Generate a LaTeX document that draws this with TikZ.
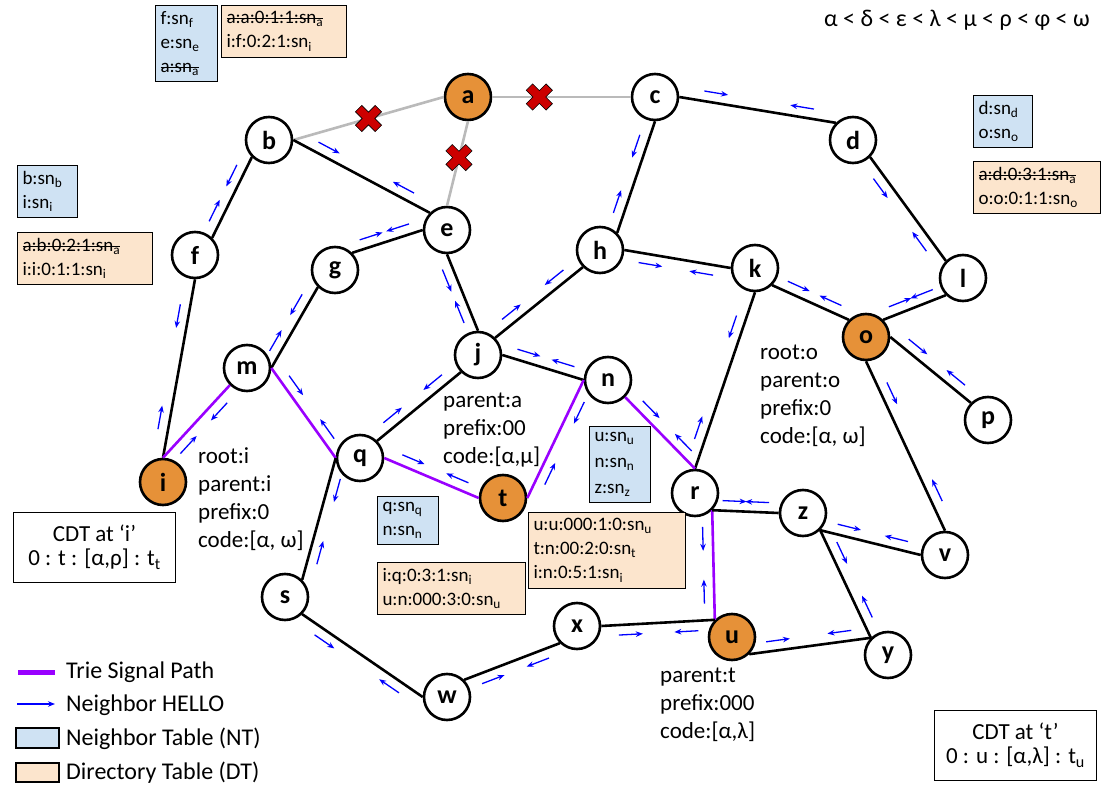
\documentclass[tikz,border=0pt]{standalone}
\usepackage{fontspec}
\setmainfont{Carlito}
\usetikzlibrary{arrows.meta}
\usetikzlibrary{calc}
\usetikzlibrary{positioning}

\definecolor{ntblue}{HTML}{CFE2F3}
\definecolor{dtpeach}{HTML}{FCE5CD}
\definecolor{rootorange}{HTML}{E69138}
\definecolor{triepurple}{HTML}{9900FF}
\definecolor{failred}{HTML}{CC0000}

\newcommand{\sn}[1]{sn\textsubscript{#1}}
\newcommand{\struck}[1]{\leavevmode\mbox{\sbox0{#1}\rlap{\rule[0.25em]{\wd0}{1.2pt}}\usebox0}}

\tikzset{
  peer/.style={circle, draw, line width=2.6pt, minimum size=46pt, inner sep=0pt,
    fill=white, font=\fontsize{26}{26}\selectfont\bfseries},
  root/.style={peer, fill=rootorange},
  link/.style={line width=2.6pt},
  deadlink/.style={line width=2.6pt, black!27},
  trie/.style={line width=2.6pt, triepurple},
  hello/.style={blue, line width=1.3pt, -{Stealth[length=7pt,width=5.5pt]}},
  ntbox/.style={draw, line width=1pt, fill=ntblue, anchor=north west, align=left,
    inner xsep=5pt, inner ysep=6pt, text width=#1, font=\fontsize{19}{24}\selectfont},
  dtbox/.style={ntbox=#1, fill=dtpeach},
  info/.style={anchor=north west, align=left, inner sep=0pt, font=\fontsize{23}{28}\selectfont},
  cdtbox/.style={draw, line width=1pt, anchor=north west, align=center, minimum width=162pt,
    minimum height=70pt, font=\fontsize{23}{24}\selectfont},
  legend/.style={anchor=west, inner sep=0pt, font=\fontsize{24}{24}\selectfont},
  fail/.pic={\filldraw[fill=failred, draw=black, line width=0.6pt, rotate=45]
    (-4.5,-14) -- (4.5,-14) -- (4.5,-4.5) -- (14,-4.5) -- (14,4.5) -- (4.5,4.5) -- (4.5,14)
    -- (-4.5,14) -- (-4.5,4.5) -- (-14,4.5) -- (-14,-4.5) -- (-4.5,-4.5) -- cycle;}
}

\begin{document}
\begin{tikzpicture}[x=1pt,y=-1pt]
\useasboundingbox (0,0) rectangle (1106,789);

% peers
\node[root] (a) at (468,97) {a};
\node[peer] (b) at (269,140) {b};
\node[peer] (c) at (655,97) {c};
\node[peer] (d) at (853,140) {d};
\node[peer] (e) at (447,230) {e};
\node[peer] (f) at (195,255) {f};
\node[peer] (g) at (335,270) {g};
\node[peer] (h) at (600,250) {h};
\node[peer] (k) at (755,268) {k};
\node[peer] (l) at (963,278) {l};
\node[peer] (j) at (478,355) {j};
\node[peer] (m) at (247,368) {m};
\node[peer] (n) at (608,380) {n};
\node[root] (o) at (866,337) {o};
\node[peer] (p) at (988,420) {p};
\node[peer] (q) at (360,458) {q};
\node[root] (i) at (163,482) {i};
\node[root] (t) at (503,498) {t};
\node[peer] (r) at (695,493) {r};
\node[peer] (z) at (803,513) {z};
\node[peer] (v) at (945,555) {v};
\node[peer] (s) at (285,597) {s};
\node[peer] (x) at (577,626) {x};
\node[root] (u) at (732,637) {u};
\node[peer] (y) at (888,655) {y};
\node[peer] (w) at (447,697) {w};

% failed links of a
\foreach \p/\q in {b.east/a.west, a.east/c.west, a.south/e.north}
  \draw[deadlink] (\p) -- (\q);
\pic at ($(b.east)!0.5!(a.west)$) {fail};
\pic at ($(a.east)!0.34!(c.west)$) {fail};
\pic at ($(a.south)!0.43!(e.north)$) {fail};

% links with neighbor hellos
\foreach \p/\q/\s/\k in {
    b.east/e.north west/10pt/link, b.south west/f.north east/-10pt/link,
    f.south/i.north/-10pt/link, e.west/g.north east/-10pt/link,
    g.south west/m.east/-10pt/link, e.south/j.north/-10pt/link,
    c.east/d.north west/10pt/link, c.south/h.north east/-10pt/link,
    d.south east/l.north west/-10pt/link, h.east/k.west/-10pt/link,
    h.south west/j.north east/-10pt/link, k.south east/o.north west/10pt/link,
    k.south/r.north/-10pt/link, l.south west/o.north east/-10pt/link,
    o.east/p.north west/10pt/link, o.south/v.north/10pt/link,
    j.east/n.west/10pt/link, j.south west/q.north east/-10pt/link,
    i.north/m.south west/-10pt/trie, m.east/q.west/10pt/trie,
    q.east/t.west/10pt/trie, t.east/n.west/-10pt/trie,
    n.south east/r.north/10pt/trie, r.south east/u.north west/-10pt/trie,
    r.south east/z.west/10pt/link, z.south east/v.west/10pt/link,
    z.south east/y.north west/10pt/link, u.south east/y.north west/10pt/link,
    x.east/u.north west/-10pt/link, x.south west/w.north east/10pt/link,
    s.south east/w.west/-10pt/link, q.west/s.north east/10pt/link}{
  \draw[\k] (\p) -- (\q);
  \draw[hello] ($(\p)!0.15!(\q)!\s!90:(\q)$) -- ($(\p)!0.15!(\q)!24pt!(\q)!\s!90:(\q)$);
  \draw[hello] ($(\q)!0.15!(\p)!\s!-90:(\p)$) -- ($(\q)!0.15!(\p)!24pt!(\p)!\s!-90:(\p)$);
}

% neighbor and directory tables
\node[ntbox=52pt] (ntb) at (155,5) {f:\sn{f}\\e:\sn{e}\\\struck{a:\sn{a}}};
\node[dtbox=115pt] (dtb) at (221,5) {\struck{a:a:0:1:1:\sn{a}}\\i:f:0:2:1:\sn{i}};
\node[ntbox=50pt] (ntf) at (17,165) {b:\sn{b}\\i:\sn{i}};
\node[dtbox=125pt] (dtf) at (17,232) {\struck{a:b:0:2:1:\sn{a}}\\i:i:0:1:1:\sn{i}};
\node[ntbox=49pt] (ntl) at (973,95) {d:\sn{d}\\o:\sn{o}};
\node[dtbox=117pt] (dtl) at (973,161) {\struck{a:d:0:3:1:\sn{a}}\\o:o:0:1:1:\sn{o}};
\node[ntbox=51pt] (ntt) at (377,496) {q:\sn{q}\\n:\sn{n}};
\node[dtbox=138pt] (dtt) at (377,562) {i:q:0:3:1:\sn{i}\\u:n:000:3:0:\sn{u}};
\node[ntbox=51pt, font=\fontsize{19}{26}\selectfont] (ntr) at (589,426) {u:\sn{u}\\n:\sn{n}\\z:\sn{z}};
\node[dtbox=147pt] (dtr) at (528,512) {u:u:000:1:0:\sn{u}\\t:n:00:2:0:\sn{t}\\i:n:0:5:1:\sn{i}};

% trie state
\node[info] (rooti) at (198,447) {root:i\\parent:i\\prefix:0\\code:[α, ω]};
\node[info] (parenta) at (443,393) {parent:a\\prefix:00\\code:[α,μ]};
\node[info] (rooto) at (760,345) {root:o\\parent:o\\prefix:0\\code:[α, ω]};
\node[info] (parentt) at (660,668) {parent:t\\prefix:000\\code:[α,λ]};

\node[cdtbox] (cdti) at (13,512) {CDT at ‘i’\\0 : t : [α,ρ] : t\textsubscript{t}};
\node[cdtbox] (cdtt) at (934,710) {CDT at ‘t’\\0 : u : [α,λ] : t\textsubscript{u}};

\node[font=\fontsize{24}{24}\selectfont] (order) at (957,20) {α < δ < ε < λ < μ < ρ < φ < ω};

% legend
\draw[trie, line width=5pt] (18,672) -- (55,672);
\draw[hello] (17,704) -- (55,704);
\draw[line width=1.5pt, fill=ntblue] (16,728) rectangle (59,748);
\draw[line width=1.5pt, fill=dtpeach] (16,763) rectangle (59,782);
\node[legend] (lgtrie) at (66,672) {Trie Signal Path};
\node[legend] (lghello) at (66,705) {Neighbor HELLO};
\node[legend] (lgnt) at (66,739) {Neighbor Table (NT)};
\node[legend] (lgdt) at (66,773) {Directory Table (DT)};
\end{tikzpicture}
\end{document}
